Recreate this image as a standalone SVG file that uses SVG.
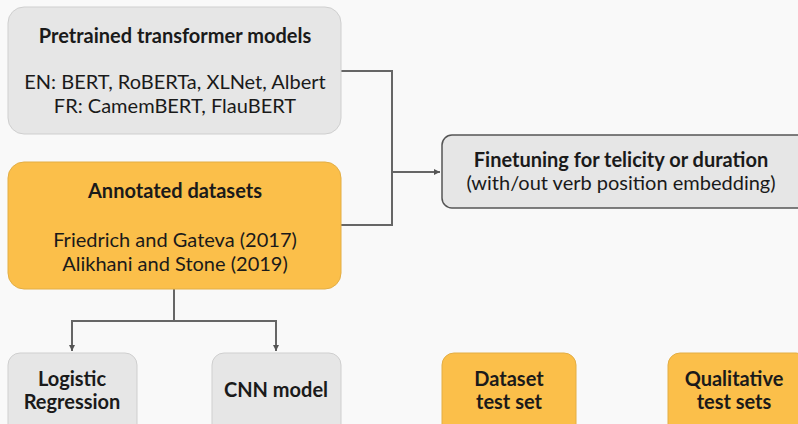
<svg xmlns="http://www.w3.org/2000/svg" width="798" height="424" viewBox="0 0 798 424">
<defs>
<style>
.t{font-family:Lato,"Open Sans","Liberation Sans",sans-serif;font-size:20px;fill:#1a1a1a;text-anchor:middle}
.b{font-weight:bold}
.gray{fill:#e6e6e6;stroke:#cfcfcf;stroke-width:1}
.org{fill:#fbbf4a;stroke:#e3ae45;stroke-width:1}
.ln{fill:none;stroke:#666;stroke-width:2}
</style>
<marker id="ah" markerWidth="8" markerHeight="8" refX="6" refY="4" orient="auto" markerUnits="userSpaceOnUse">
<path d="M0,1 L6,4 L0,7 Z" fill="#555"/>
</marker>
</defs>
<rect width="798" height="424" fill="#f9f9f9"/>
<g id="connectors">
<path class="ln" d="M341,71 H392 V225 H341"/>
<path class="ln" d="M392,172 H440" marker-end="url(#ah)"/>
<path class="ln" d="M174,289 V321 H72 V351" marker-end="url(#ah)"/>
<path class="ln" d="M174,321 H276 V351" marker-end="url(#ah)"/>
</g>
<g id="pretrained">
<rect class="gray" x="8" y="7" width="333" height="127" rx="16"/>
<text class="t b" x="175" y="43">Pretrained transformer models</text>
<text class="t" x="175" y="89">EN: BERT, RoBERTa, XLNet, Albert</text>
<text class="t" x="175" y="113">FR: CamemBERT, FlauBERT</text>
</g>
<g id="annotated">
<rect class="org" x="8" y="162" width="333" height="127" rx="16"/>
<text class="t b" x="175" y="198">Annotated datasets</text>
<text class="t" x="175" y="247">Friedrich and Gateva (2017)</text>
<text class="t" x="175" y="271">Alikhani and Stone (2019)</text>
</g>
<g id="finetuning">
<rect x="442" y="135" width="366" height="73" rx="10" fill="#e6e6e6" stroke="#555" stroke-width="1.5"/>
<text class="t b" x="621" y="167">Finetuning for telicity or duration</text>
<text class="t" x="621" y="190">(with/out verb position embedding)</text>
</g>
<g id="logistic">
<rect class="gray" x="8" y="353" width="129" height="90" rx="12"/>
<text class="t b" x="72" y="386">Logistic</text>
<text class="t b" x="72" y="409">Regression</text>
</g>
<g id="cnn">
<rect class="gray" x="212" y="353" width="129" height="90" rx="12"/>
<text class="t b" x="276" y="397">CNN model</text>
</g>
<g id="dataset">
<rect class="org" x="442" y="353" width="134" height="90" rx="12"/>
<text class="t b" x="509" y="386">Dataset</text>
<text class="t b" x="509" y="409">test set</text>
</g>
<g id="qualitative">
<rect class="org" x="668" y="353" width="140" height="90" rx="12"/>
<text class="t b" x="734" y="386">Qualitative</text>
<text class="t b" x="734" y="409">test sets</text>
</g>
</svg>
